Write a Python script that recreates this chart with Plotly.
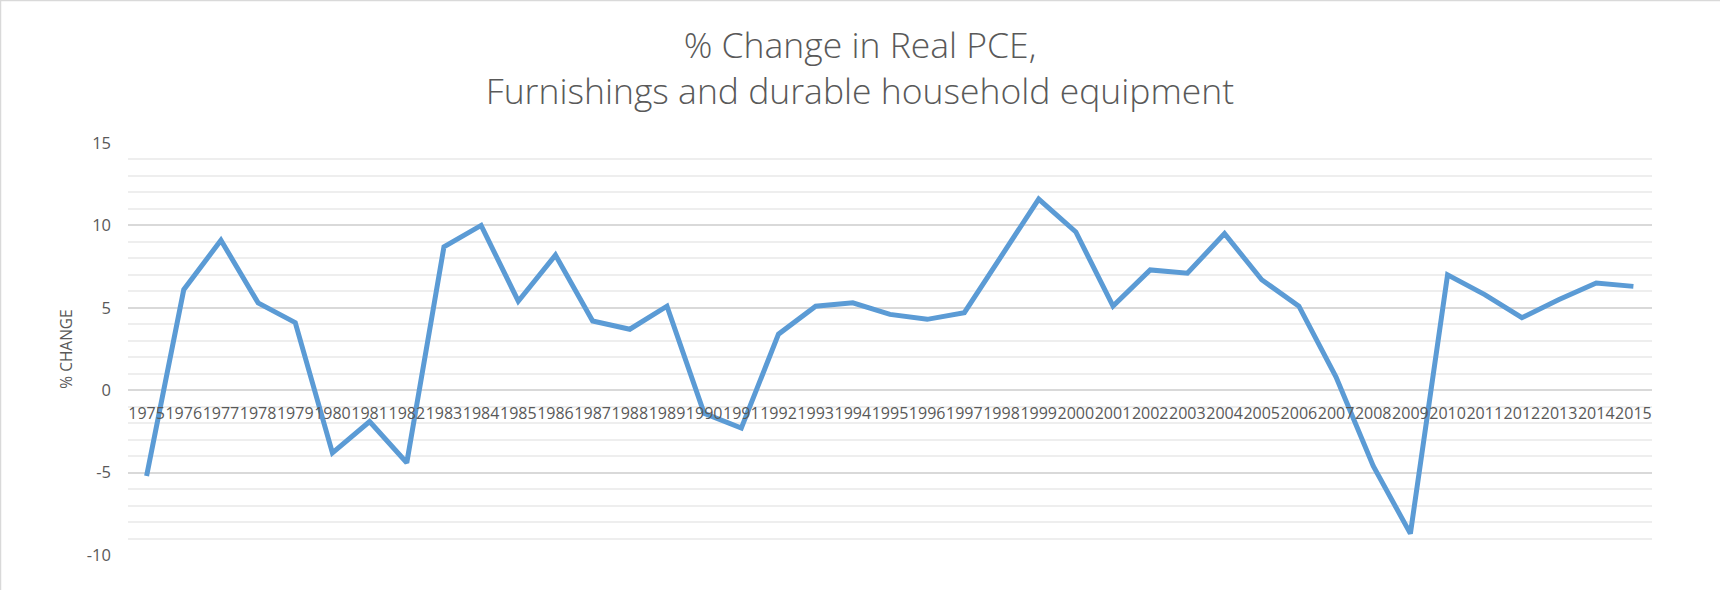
import plotly.graph_objects as go

years = [str(y) for y in range(1975, 2016)]
pct_change = [
    -5.2, 6.1, 9.1, 5.3, 4.1, -3.8, -1.9, -4.4, 8.7, 10.0,
    5.4, 8.2, 4.2, 3.7, 5.1, -1.4, -2.3, 3.4, 5.1, 5.3,
    4.6, 4.3, 4.7, 8.1, 11.6, 9.6, 5.1, 7.3, 7.1, 9.5,
    6.7, 5.1, 0.8, -4.6, -8.7, 7.0, 5.8, 4.4, 5.5, 6.5,
    6.3,
]
y_ticks = [-10, -5, 0, 5, 10, 15]
title_lines = ["% Change in Real PCE,", "Furnishings and durable household equipment"]
y_title = "% CHANGE"

W, H = 1720, 590
ML, MR, MT, MB = 128, 68, 143, 35
PW, PH = W - ML - MR, H - MT - MB
ymin, ymax = -10, 15

fig = go.Figure()
fig.add_trace(go.Scatter(
    x=years, y=pct_change, mode="lines",
    line=dict(color="#5B9BD5", width=5),
    showlegend=False, hoverinfo="x+y",
))

grey_text = "#595959"
fig.update_layout(
    width=W, height=H,
    margin=dict(l=ML, r=MR, t=MT, b=MB, autoexpand=False),
    paper_bgcolor="white", plot_bgcolor="white",
    font=dict(family="Open Sans, Liberation Sans, sans-serif", color=grey_text),
    title=dict(
        text="<br>".join(title_lines),
        x=0.5, xref="container", xanchor="center",
        y=1 - 58 / H, yref="container", yanchor="middle",
        font=dict(family="Open Sans", size=35.5, color=grey_text, weight=300),
    ),
    xaxis=dict(
        type="category",
        tickmode="array", tickvals=years, ticktext=years,
        tickangle=0, ticks="", showgrid=False, showline=False, zeroline=False,
        anchor="free", position=(0 - ymin) / (ymax - ymin),
        tickfont=dict(size=16, color=grey_text),
        ticklabelstandoff=12,
        range=[-0.5, len(years) - 0.5],
    ),
    yaxis=dict(
        range=[ymin, ymax], tickmode="array", tickvals=y_ticks,
        ticktext=[str(v) for v in y_ticks],
        showgrid=True, gridcolor="#d9d9d9", gridwidth=1.5,
        zeroline=False, showline=False, ticks="",
        minor=dict(dtick=1, showgrid=True, gridcolor="#eeeeee", gridwidth=1.5),
        tickfont=dict(size=16.5, color=grey_text),
        ticklabelstandoff=16,
        title=dict(text=y_title, font=dict(size=15.5, color=grey_text), standoff=10),
    ),
    shapes=[
        dict(type="line", xref="paper", yref="paper",
             x0=(0.5 - ML) / PW, x1=(W - ML) / PW, y0=1 + (MT - 0.5) / PH, y1=1 + (MT - 0.5) / PH,
             line=dict(color="#d9d9d9", width=1.5)),
        dict(type="line", xref="paper", yref="paper",
             x0=(0.5 - ML) / PW, x1=(0.5 - ML) / PW, y0=-MB / PH, y1=1 + MT / PH,
             line=dict(color="#d9d9d9", width=1.5)),
    ],
)

fig.write_html("out.html")
